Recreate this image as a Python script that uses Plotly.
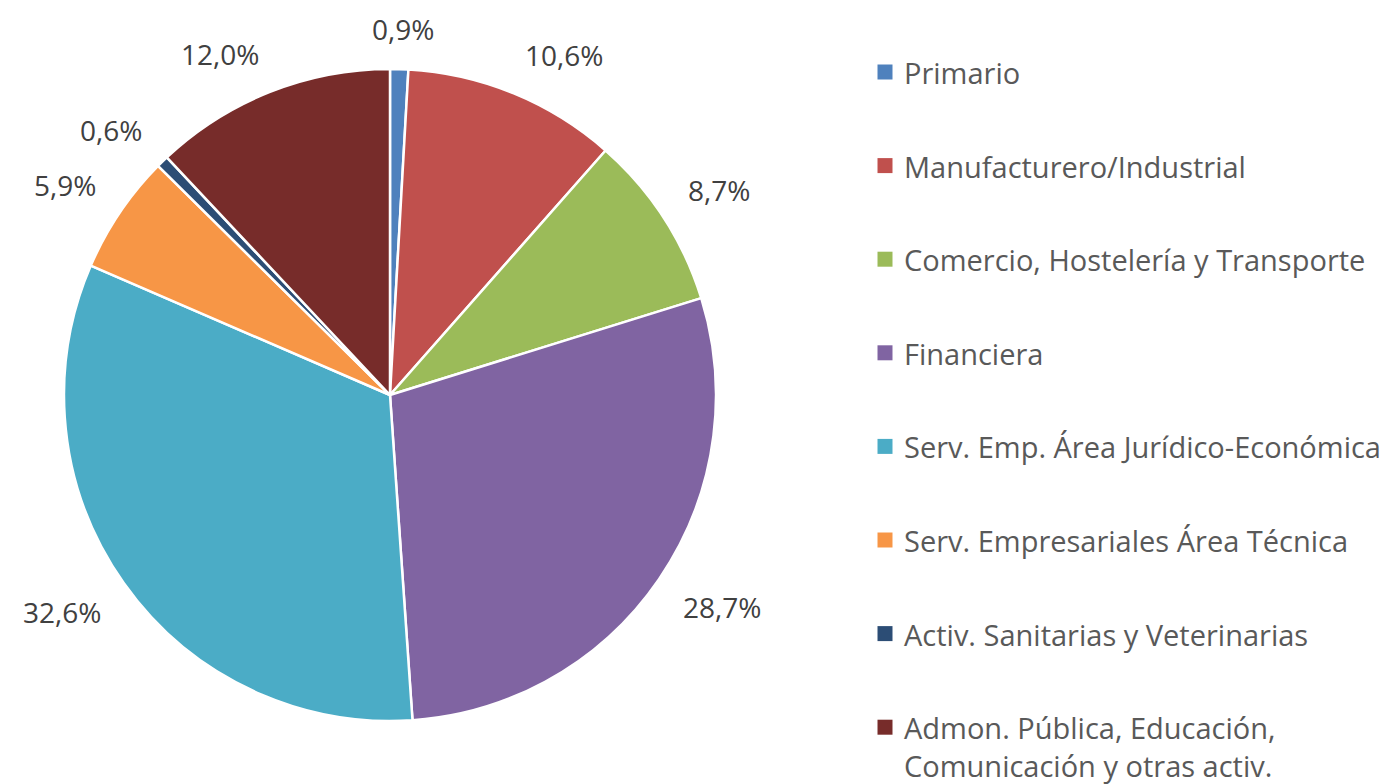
import math
import plotly.graph_objects as go

categories = [
    "Primario",
    "Manufacturero/Industrial",
    "Comercio, Hostelería y Transporte",
    "Financiera",
    "Serv. Emp. Área Jurídico-Económica",
    "Serv. Empresariales Área Técnica",
    "Activ. Sanitarias y Veterinarias",
    "Admon. Pública, Educación,<br>Comunicación y otras activ.",
]
values = [0.9, 10.6, 8.7, 28.7, 32.6, 5.9, 0.6, 12.0]
colors = ["#4F81BD", "#C0504D", "#9BBB59", "#8064A2",
          "#4BACC6", "#F79646", "#2C4D75", "#772C2A"]

FW, FH = 1394, 784


def px(X):
    return X / FW


def py(Y):
    return 1 - Y / FH


cx, cy, r = 390, 395, 326

fig = go.Figure()
fig.add_trace(go.Pie(
    labels=categories,
    values=values,
    sort=False,
    direction="clockwise",
    rotation=0,
    marker=dict(colors=colors, line=dict(color="white", width=2.5)),
    textinfo="none",
    showlegend=False,
    hoverinfo="label+value",
    domain=dict(x=[px(cx - r), px(cx + r)],
                y=[py(cy + r), py(cy - r)]),
))

annotations = []
shapes = []

# percentage labels placed outside the slices, computed from the values
lab_fs = 28
char_w = {",": 0.26, "%": 0.84}
total = sum(values)
cum = 0.0
for v in values:
    mid = (cum + v / 2) / total * 2 * math.pi
    cum += v
    txt = f"{v:.1f}".replace(".", ",") + "%"
    w = sum(char_w.get(ch, 0.572) for ch in txt) * lab_fs
    h = 0.86 * lab_fs
    s, c = math.sin(mid), math.cos(mid)
    d = r + 28
    ax = cx + d * s
    ay = cy - d * c
    X = ax + max(-1, min(1, 3 * s)) * w / 2
    Y = ay - max(-1, min(1, 3 * c)) * h / 2
    annotations.append(dict(xref="paper", yref="paper", x=px(X), y=py(Y),
                            xanchor="center", yanchor="middle",
                            text=txt, showarrow=False,
                            font=dict(family="Open Sans", size=lab_fs,
                                      color="#404040")))

# manual legend
leg_x = 885
leg_y0 = 72
leg_dy = 93.6
leg_fs = 29
for i, (name, col) in enumerate(zip(categories, colors)):
    y = leg_y0 + i * leg_dy
    shapes.append(dict(type="rect", xref="paper", yref="paper",
                       x0=px(leg_x - 7.5), x1=px(leg_x + 7.5),
                       y0=py(y + 7.5), y1=py(y - 7.5),
                       fillcolor=col, line=dict(width=0)))
    annotations.append(dict(xref="paper", yref="paper",
                            x=px(902), y=py(y - 21),
                            xanchor="left", yanchor="top", align="left",
                            text=name, showarrow=False,
                            font=dict(family="Open Sans", size=leg_fs,
                                      color="#595959")))

fig.update_layout(
    width=FW, height=FH,
    margin=dict(l=0, r=0, t=0, b=0),
    paper_bgcolor="white",
    plot_bgcolor="white",
    shapes=shapes,
    annotations=annotations,
)

fig.write_html(
    "out.html",
    config={"displayModeBar": False},
    post_script="document.body.style.margin='0px';document.body.style.overflow='hidden';",
)
